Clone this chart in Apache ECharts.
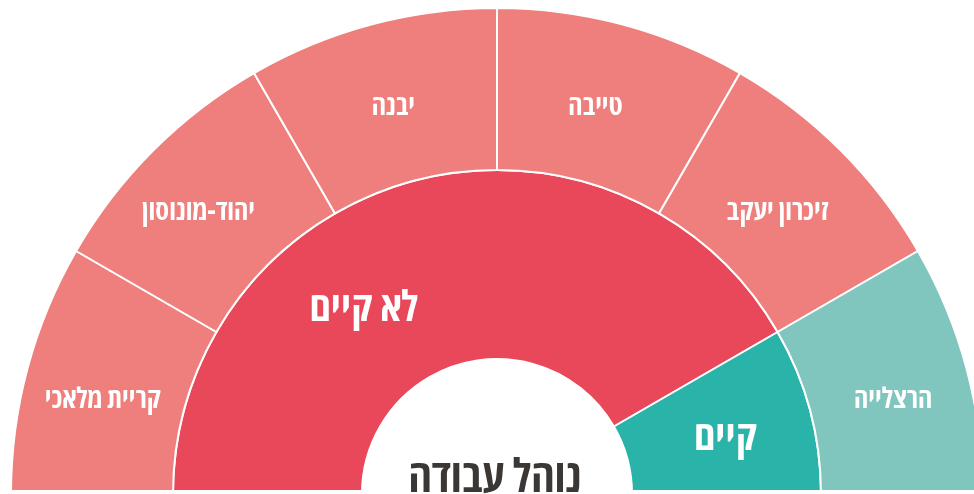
<!DOCTYPE html>
<html><head><meta charset="utf-8">
<script src="https://cdn.jsdelivr.net/npm/echarts@6/dist/echarts.min.js"></script>
<style>html,body{margin:0;padding:0;background:#fff}#c{width:974px;height:494px}</style>
</head><body><div id="c"></div>
<script>
const centerTitle = 'נוהל עבודה';
const groups = ['לא קיים', 'קיים'];
const groupColors = ['#e8485a', '#2ab3a8'];
const cityColors = ['#ee7f7c', '#80c6bf'];
const cities = ['קריית מלאכי', 'יהוד-מונוסון', 'יבנה', 'טייבה', 'זיכרון יעקב', 'הרצלייה'];
const cityGroup = ['לא קיים', 'לא קיים', 'לא קיים', 'לא קיים', 'לא קיים', 'קיים'];
const cityValues = [1, 1, 1, 1, 1, 1];

const FONT = '"Open Sans", "DejaVu Sans Condensed", sans-serif';
const innerData = groups.map((g, gi) => ({
  name: g,
  value: cities.reduce((s, c, i) => s + (cityGroup[i] === g ? cityValues[i] : 0), 0),
  itemStyle: { color: groupColors[gi] }
}));
const outerData = cities.map((c, i) => ({
  name: c,
  value: cityValues[i],
  itemStyle: { color: cityColors[groups.indexOf(cityGroup[i])] }
}));
const innerNudge = [[-73, 40], [4, 4]];
const outerNudge = [[0, 12], [-10, 7], [2, 7], [-7, 7], [-8, 7], [2, 12]];

const chart = echarts.init(document.getElementById('c'), null, { renderer: 'canvas' });
chart.setOption({
  animation: false,
  graphic: [
    { type: 'rect', shape: { x: 0, y: 490, width: 974, height: 4 }, style: { fill: '#fff' }, z: 50 },
    { type: 'text', x: 495, y: 502, z: 100,
      style: { text: centerTitle, fill: '#3b3735', fontFamily: FONT, fontWeight: 'bold condensed', fontSize: 46,
               align: 'center', verticalAlign: 'bottom' } }
  ],
  series: [
    {
      type: 'pie', center: [497, 494], radius: [135, 324],
      startAngle: 180, endAngle: 0, clockwise: true,
      itemStyle: { borderColor: '#fff', borderWidth: 2 },
      label: { show: true, position: 'inside', color: '#fff', fontFamily: FONT, fontWeight: 'bold semi-condensed', fontSize: 42 },
      labelLine: { show: false },
      labelLayout: function (p) { const n = innerNudge[p.dataIndex]; return { dx: n[0], dy: n[1] }; },
      emphasis: { disabled: true },
      data: innerData
    },
    {
      type: 'pie', center: [497, 494], radius: [324, 486],
      startAngle: 180, endAngle: 0, clockwise: true,
      itemStyle: { borderColor: '#fff', borderWidth: 2 },
      label: { show: true, position: 'inside', color: '#fff', fontFamily: FONT, fontWeight: 'bold semi-condensed', fontSize: 28 },
      labelLine: { show: false },
      labelLayout: function (p) { const n = outerNudge[p.dataIndex]; return { dx: n[0], dy: n[1] }; },
      emphasis: { disabled: true },
      data: outerData
    }
  ]
});
</script></body></html>
